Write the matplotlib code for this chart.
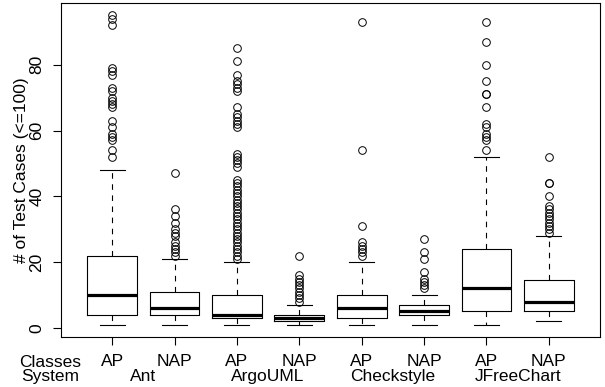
import matplotlib
matplotlib.use("Agg")
import matplotlib.pyplot as plt
import matplotlib.transforms as mtransforms

plt.rcParams['font.family'] = ['Liberation Sans', 'DejaVu Sans']

# dane (liczba przypadkow testowych, <=100)
klasy = ["AP", "NAP", "AP", "NAP", "AP", "NAP", "AP", "NAP"]
systemy = ["Ant", "ArgoUML", "Checkstyle", "JFreeChart"]

q1 = [4, 4, 3, 2, 3, 4, 5, 5]
mediana = [10, 6, 4, 3, 6, 5, 12, 8]
q3 = [22, 11, 10, 4, 10, 7, 24, 14.5]
wasy_dol = [1, 1, 1, 1, 1, 1, 1, 2]
wasy_gora = [48, 21, 20, 7, 20, 10, 52, 28]

odstajace = [
    [95, 94, 92, 79, 78, 77, 73, 72, 70, 69, 68, 67, 63, 61, 59, 58, 57, 54, 52],
    [47, 36, 34, 32, 30, 29, 28, 26, 25, 24, 23, 22],
    [85, 81, 77, 75, 74, 73, 72, 67, 65, 64, 63, 62, 61, 53, 52, 51, 50, 49]
    + list(range(21, 46)),
    [22, 16, 15, 14, 13, 12, 11, 10, 9, 8],
    [93, 54, 31, 26, 25, 24, 23, 22],
    [27, 23, 21, 17, 15, 14, 13, 12],
    [93, 87, 80, 75, 71, 71, 67, 62, 61, 59, 58, 57, 54],
    [52, 44, 44, 40, 37, 36, 35, 34, 33, 32, 31, 30, 29],
]

staty = []
for i in range(len(klasy)):
    staty.append({'med': mediana[i], 'q1': q1[i], 'q3': q3[i],
                  'whislo': wasy_dol[i], 'whishi': wasy_gora[i],
                  'fliers': odstajace[i]})

fig = plt.figure(figsize=(6.05, 3.87), dpi=100)
ax = fig.add_axes([61 / 605, 50 / 387, 539 / 605, 334 / 387])

poz = list(range(1, len(klasy) + 1))
ax.bxp(staty, positions=poz, widths=0.8, capwidths=0.4,
       boxprops=dict(color='black', linewidth=0.8),
       medianprops=dict(color='black', linewidth=2.3, solid_capstyle='butt'),
       whiskerprops=dict(color='black', linewidth=0.8, linestyle=(0, (5, 5))),
       capprops=dict(color='black', linewidth=0.8),
       flierprops=dict(marker='o', markerfacecolor='none', markeredgecolor='black',
                       markersize=5.5, markeredgewidth=0.7),
       manage_ticks=False)

ax.set_xlim(0.18, 8.82)
ax.set_ylim(-2.76, 98.76)

ax.set_xticks(poz)
ax.set_xticklabels(klasy, fontsize=12.5)
ax.set_yticks([0, 20, 40, 60, 80])
ax.set_yticklabels(['0', '20', '40', '60', '80'], fontsize=12.5, rotation=90, va='center')
ax.tick_params(axis='both', length=6, width=0.8, color='black')
ax.tick_params(axis='x', pad=6)
ax.tick_params(axis='y', pad=6)

for s in ax.spines.values():
    s.set_linewidth(0.8)

ax.set_ylabel("# of Test Cases (<=100)", fontsize=12.5, va='center')
ax.yaxis.set_label_coords(-0.073, 0.5)

# podpisy pod osia
tr = mtransforms.blended_transform_factory(ax.transData, fig.transFigure)
ax.text(0.0, 20 / 387, "Classes", transform=tr, ha='center', va='baseline', fontsize=12.5)
ax.text(0.0, 6 / 387, "System", transform=tr, ha='center', va='baseline', fontsize=12.5)
for k, nazwa in enumerate(systemy):
    ax.text(1.5 + 2 * k, 6 / 387, nazwa, transform=tr, ha='center', va='baseline',
            fontsize=12.5)

fig.savefig("out.png", dpi=100)
